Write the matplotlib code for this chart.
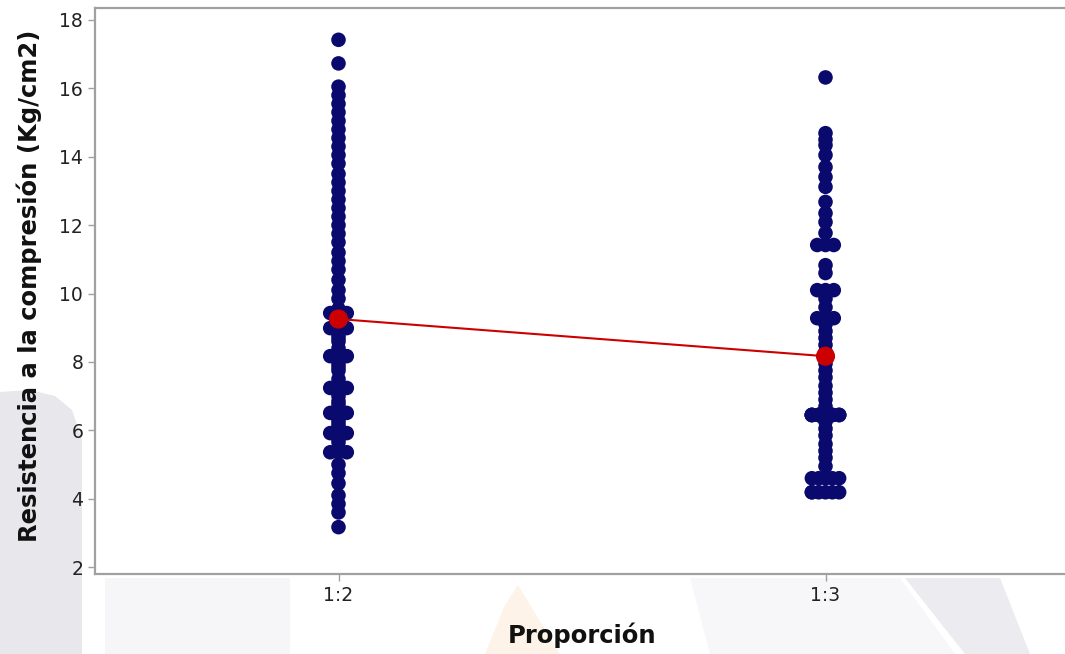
import matplotlib.pyplot as plt
import numpy as np
from matplotlib.patches import Polygon

# Individual value plot: Resistencia a la compresión by Proporción
groups = ['1:2', '1:3']

# (value, count) pairs; counts > 1 are jittered sideways
vals_12 = [(17.42, 1), (16.73, 1),
           (16.05, 1), (15.8, 1), (15.55, 1), (15.3, 1), (15.05, 1), (14.8, 1),
           (14.55, 1), (14.3, 1), (14.05, 1), (13.8, 1), (13.5, 1), (13.25, 1),
           (13.0, 1), (12.75, 1), (12.5, 1), (12.25, 1), (12.0, 1), (11.75, 1),
           (11.5, 1), (11.2, 1), (10.95, 1), (10.7, 1), (10.4, 1), (10.1, 1),
           (9.85, 1), (9.55, 1),
           (9.43, 3), (9.2, 1), (8.99, 3), (8.8, 1), (8.7, 1), (8.6, 1), (8.4, 1),
           (8.17, 3), (7.95, 1), (7.85, 1), (7.75, 1), (7.5, 1), (7.24, 3),
           (7.1, 1), (7.0, 1), (6.85, 1), (6.75, 1), (6.51, 3), (6.3, 1),
           (6.2, 1), (6.1, 1), (5.92, 3), (5.75, 1), (5.65, 1), (5.36, 3),
           (5.0, 1), (4.75, 1), (4.45, 1), (4.1, 1), (3.85, 1), (3.6, 1),
           (3.17, 1)]

vals_13 = [(16.32, 1),
           (14.69, 1), (14.5, 1), (14.34, 1), (14.05, 1), (13.7, 1), (13.41, 1),
           (13.12, 1), (12.68, 1), (12.35, 1), (12.09, 1), (11.77, 1),
           (11.42, 3), (10.83, 1), (10.6, 1), (10.1, 3), (9.85, 1), (9.6, 1),
           (9.28, 3), (9.1, 1), (8.9, 1), (8.7, 1), (8.5, 1), (8.3, 1),
           (8.15, 1), (7.95, 1), (7.75, 1), (7.55, 1), (7.3, 1), (7.1, 1),
           (6.9, 1), (6.7, 1),
           (6.45, 17), (6.25, 1), (6.05, 1), (5.85, 1), (5.6, 1), (5.4, 1),
           (5.2, 1), (4.95, 1), (4.6, 5), (4.19, 6)]

dot_color = '#0a0a6e'
mean_color = '#cc0000'


def expand(pairs, xpos):
    xs, ys = [], []
    for v, n in pairs:
        if n == 1:
            offs = [0.0]
        elif n <= 3:
            offs = [-0.017, 0.0, 0.017][:n]
        else:
            base = [-0.028, -0.014, 0.0, 0.014, 0.028]
            offs = [base[i % 5] for i in range(n)]
        for o in offs:
            xs.append(xpos + o)
            ys.append(v)
    return np.array(xs), np.array(ys)


fig = plt.figure(figsize=(10.65, 6.54), dpi=100)
W, H = 1065, 654


def px_poly(pts, color):
    p = Polygon([(x / W, 1 - y / H) for x, y in pts], closed=True,
                transform=fig.transFigure, facecolor=color, edgecolor='none',
                zorder=0)
    fig.patches.append(p)


# faint watermark shapes of the page background
px_poly([(0, 392), (30, 390), (55, 396), (72, 410), (82, 440), (82, 654), (0, 654)], '#e7e7ec')
px_poly([(105, 578), (290, 578), (290, 654), (105, 654)], '#f6f6f8')
px_poly([(485, 654), (505, 605), (518, 585), (560, 654)], '#fdf3e8')
px_poly([(690, 578), (900, 578), (955, 654), (710, 654)], '#f7f7f9')
px_poly([(905, 578), (1000, 578), (1030, 654), (965, 654)], '#ebebf0')

ax = fig.add_axes([95 / W, 80 / H, 974 / W, 566 / H])
ax.set_zorder(1)
ax.set_facecolor('white')

x12, y12 = expand(vals_12, 1)
x13, y13 = expand(vals_13, 2)
ax.scatter(x12, y12, s=110, color=dot_color, edgecolors='none', zorder=2)
ax.scatter(x13, y13, s=110, color=dot_color, edgecolors='none', zorder=2)

means = [y12.mean(), y13.mean()]
ax.plot([1, 2], means, color=mean_color, lw=1.5, zorder=3)
ax.scatter([1, 2], means, s=190, color=mean_color, edgecolors='none', zorder=4)

ax.set_xlim(0.5, 2.5)
ax.set_ylim(1.8, 18.35)
ax.set_xticks([1, 2])
ax.set_xticklabels(groups)
ax.set_yticks(np.arange(2, 19, 2))

ax.spines['right'].set_visible(False)
for side in ['left', 'top', 'bottom']:
    ax.spines[side].set_color('#a0a0a0')
    ax.spines[side].set_linewidth(1.6)
ax.tick_params(axis='both', colors='#a0a0a0', labelcolor='#222222',
               labelsize=13.5, length=5, width=1)

ax.set_ylabel('Resistencia a la compresión (Kg/cm2)', fontsize=17.5,
              fontweight='bold', color='#111111')
ax.yaxis.set_label_coords(-0.054, 0.51)
ax.set_xlabel('Proporción', fontsize=17.5, fontweight='bold', color='#111111')
ax.xaxis.set_label_coords(0.5, -0.085)

fig.savefig('out.png', dpi=100)
